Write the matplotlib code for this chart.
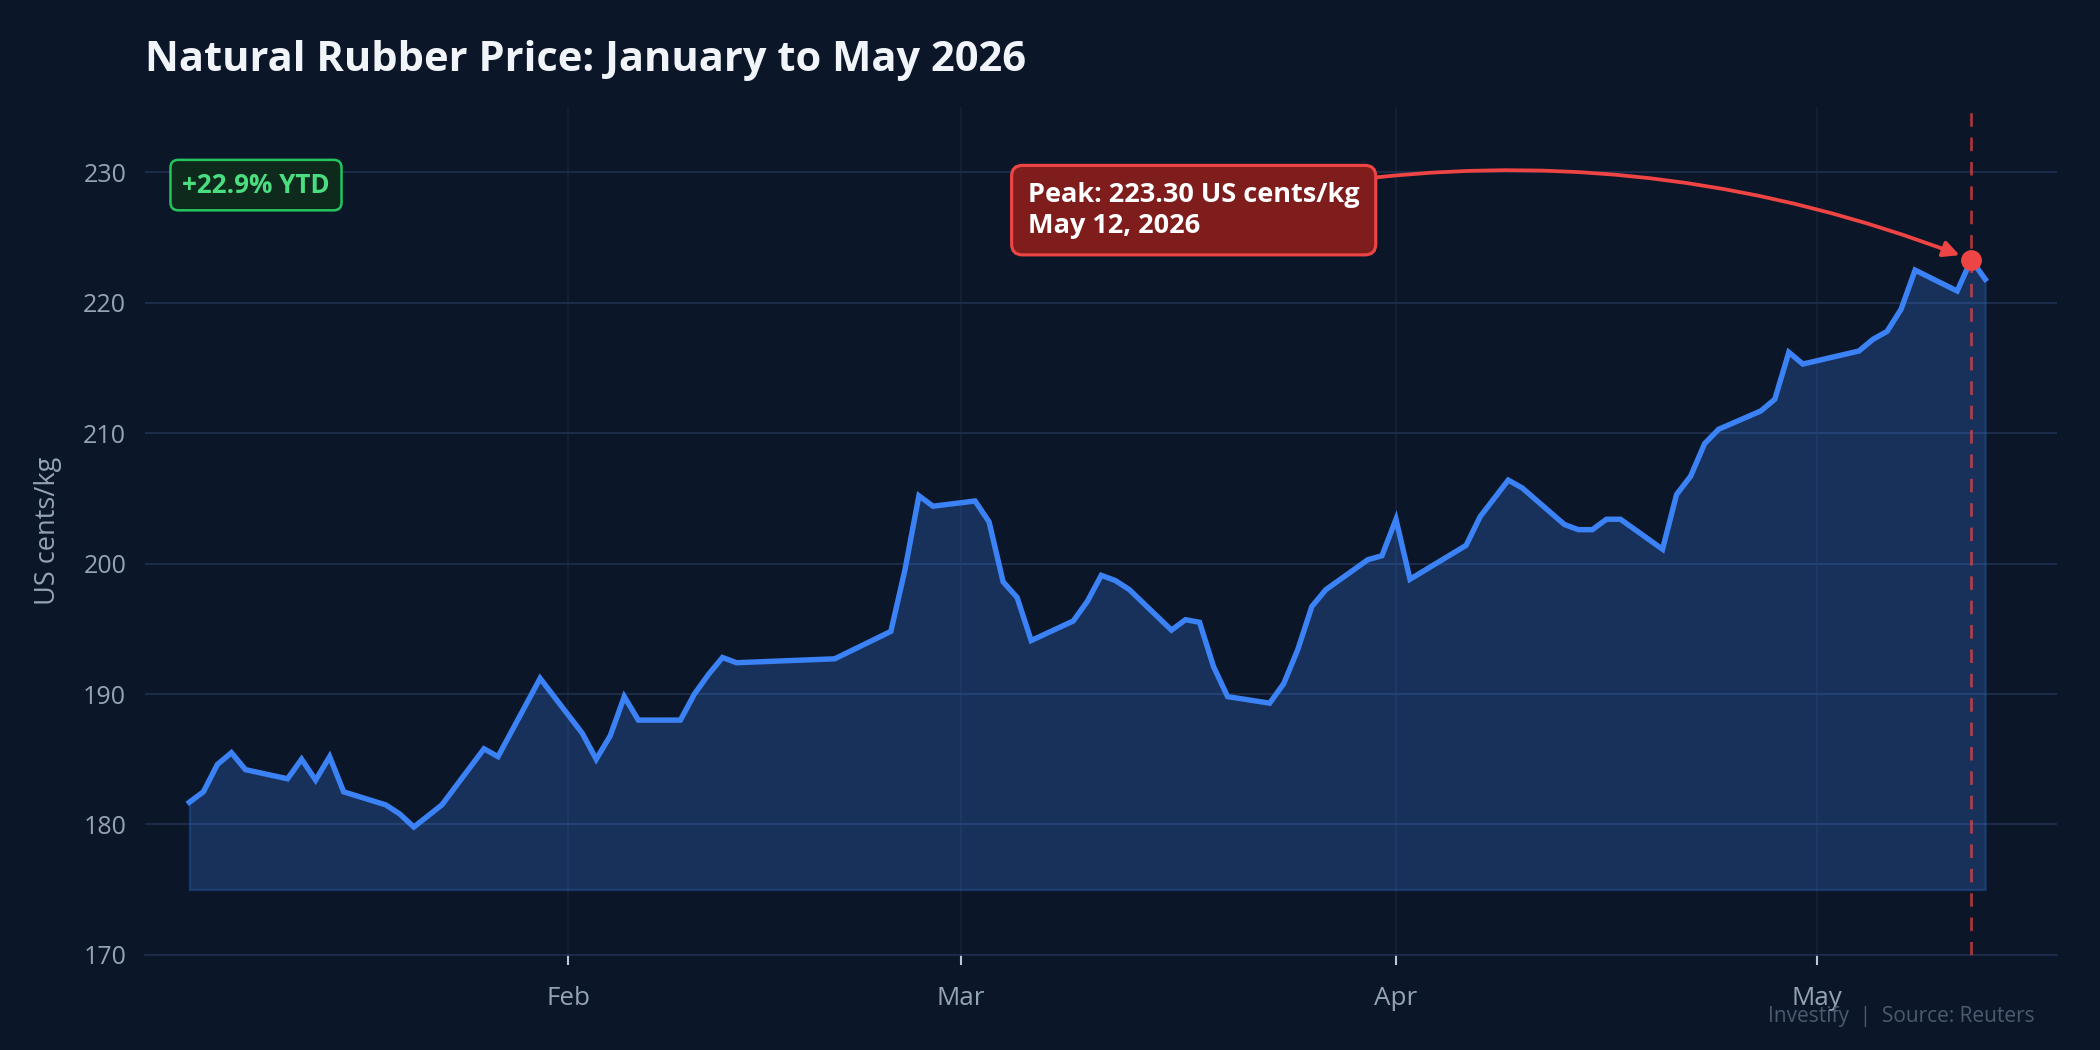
import matplotlib
matplotlib.use("Agg")
import matplotlib.pyplot as plt
import matplotlib.dates as mdates
import pandas as pd

plt.rcParams['font.family'] = ['Open Sans', 'Noto Sans', 'DejaVu Sans']

# daily price readings, US cents/kg
dates = [
    "2026-01-05", "2026-01-06", "2026-01-07", "2026-01-08", "2026-01-09",
    "2026-01-12", "2026-01-13", "2026-01-14", "2026-01-15", "2026-01-16",
    "2026-01-19", "2026-01-20", "2026-01-21", "2026-01-23",
    "2026-01-26", "2026-01-27", "2026-01-30",
    "2026-02-02", "2026-02-03", "2026-02-04", "2026-02-05", "2026-02-06",
    "2026-02-09", "2026-02-10", "2026-02-11", "2026-02-12", "2026-02-13",
    "2026-02-20", "2026-02-24", "2026-02-25", "2026-02-26", "2026-02-27",
    "2026-03-02", "2026-03-03", "2026-03-04", "2026-03-05", "2026-03-06",
    "2026-03-09", "2026-03-10", "2026-03-11", "2026-03-12", "2026-03-13",
    "2026-03-16", "2026-03-17", "2026-03-18", "2026-03-19", "2026-03-20",
    "2026-03-23", "2026-03-24", "2026-03-25", "2026-03-26", "2026-03-27",
    "2026-03-30", "2026-03-31", "2026-04-01", "2026-04-02",
    "2026-04-06", "2026-04-07", "2026-04-09", "2026-04-10",
    "2026-04-13", "2026-04-14", "2026-04-15", "2026-04-16", "2026-04-17",
    "2026-04-20", "2026-04-21", "2026-04-22", "2026-04-23", "2026-04-24",
    "2026-04-27", "2026-04-28", "2026-04-29", "2026-04-30",
    "2026-05-04", "2026-05-05", "2026-05-06", "2026-05-07", "2026-05-08",
    "2026-05-11", "2026-05-12", "2026-05-13",
]
prices = [
    181.7, 182.5, 184.6, 185.5, 184.2,
    183.5, 185.0, 183.4, 185.2, 182.5,
    181.5, 180.8, 179.8, 181.5,
    185.8, 185.2, 191.2,
    187.0, 185.0, 186.8, 189.8, 188.0,
    188.0, 190.0, 191.5, 192.8, 192.4,
    192.7, 194.8, 199.5, 205.2, 204.4,
    204.8, 203.2, 198.6, 197.4, 194.1,
    195.6, 197.1, 199.1, 198.7, 198.0,
    194.9, 195.7, 195.5, 192.1, 189.8,
    189.3, 190.8, 193.4, 196.7, 198.0,
    200.3, 200.6, 203.4, 198.8,
    201.4, 203.6, 206.4, 205.8,
    203.0, 202.6, 202.6, 203.4, 203.4,
    201.1, 205.3, 206.7, 209.2, 210.3,
    211.7, 212.6, 216.2, 215.3,
    216.3, 217.2, 217.8, 219.5, 222.5,
    220.9, 223.3, 221.8,
]
peak_date = "2026-05-12"
peak_value = 223.3
ytd_text = "+22.9% YTD"
y_ticks = [170, 180, 190, 200, 210, 220, 230]

BG = "#0b1628"
BLUE = "#3b82f6"
RED = "#ef4444"
MUTED = "#94a3b8"
GRID = "#1c2c48"

x = pd.to_datetime(dates)
px = pd.Timestamp(peak_date)

fig = plt.figure(figsize=(14, 7), dpi=150, facecolor=BG)
ax = fig.add_axes([0.069, 0.0906, 0.9106, 0.8074])
ax.set_facecolor(BG)

ax.fill_between(x, prices, 175, color=BLUE, alpha=0.25, linewidth=1.0,
                edgecolor=(0.23, 0.51, 0.96, 0.35), zorder=2)
ax.plot(x, prices, color=BLUE, linewidth=2.6, zorder=3, solid_joinstyle='miter')

ax.axvline(px, color=RED, linestyle=(0, (5, 4)), linewidth=1.3, alpha=0.7, zorder=4)
ax.plot([px], [peak_value], 'o', color=RED, markersize=9, zorder=5)

ax.annotate("Peak: 223.30 US cents/kg\nMay 12, 2026",
            xy=(px, peak_value), xytext=(pd.Timestamp("2026-03-17 14:00"), 227.1),
            ha='center', va='center', multialignment='left',
            color='white', fontsize=13, fontweight='bold', linespacing=1.25,
            bbox=dict(boxstyle='round,pad=0.6,rounding_size=0.4', fc='#7f1d1d',
                      ec=RED, lw=1.5),
            arrowprops=dict(arrowstyle='-|>', color=RED, lw=1.8,
                            mutation_scale=16, shrinkA=0, shrinkB=6,
                            connectionstyle='arc3,rad=-0.16'),
            zorder=6)

ax.text(0.0195, 0.908, ytd_text, transform=ax.transAxes, ha='left', va='center',
        color='#4ade80', fontsize=12.5, fontweight='bold',
        bbox=dict(boxstyle='round,pad=0.45,rounding_size=0.3', fc='#0d2a1c',
                  ec='#22c55e', lw=1.2))

ax.set_xlim(pd.Timestamp("2026-01-01 20:00"), pd.Timestamp("2026-05-18 03:00"))
ax.set_ylim(170, 235)
ax.set_yticks(y_ticks)
ax.xaxis.set_major_locator(mdates.MonthLocator(bymonth=[2, 3, 4, 5]))
ax.xaxis.set_major_formatter(mdates.DateFormatter('%b'))

ax.grid(axis='y', color=GRID, linewidth=1.0, zorder=0)
ax.grid(axis='x', color='#16223a', linewidth=0.8, zorder=0)
for s in ['top', 'right', 'left']:
    ax.spines[s].set_visible(False)
ax.spines['bottom'].set_color('#1e2d4a')
ax.tick_params(axis='y', length=0, labelsize=12, colors=MUTED, pad=9)
ax.tick_params(axis='x', length=5, width=1, color='#c0c8d4', labelsize=12.5,
               labelcolor=MUTED, pad=10)

ax.set_ylabel("US cents/kg", color=MUTED, fontsize=13, labelpad=10)

fig.text(0.069, 0.942, "Natural Rubber Price: January to May 2026", color='#f1f5f9',
         fontsize=20, fontweight='bold', ha='left', va='center')
fig.text(0.969, 0.032, "Investify  |  Source: Reuters", color='#4b5a70',
         fontsize=10, ha='right', va='center')

fig.savefig("out.png", dpi=150, facecolor=BG)
